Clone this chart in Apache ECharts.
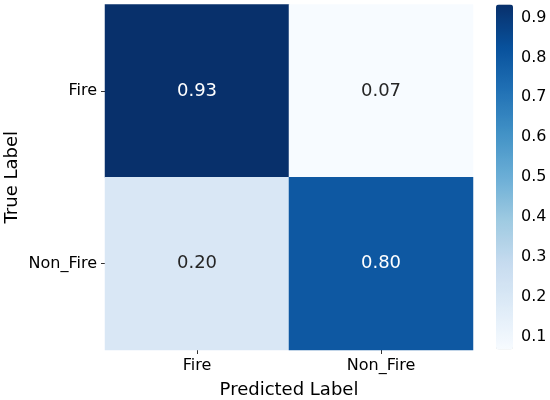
<!DOCTYPE html>
<html><head><meta charset="utf-8">
<script src="https://cdn.jsdelivr.net/npm/echarts@6/dist/echarts.min.js"></script>
<style>html,body{margin:0;padding:0;background:#fff}#c{width:550px;height:400px}</style>
</head><body><div id="c"></div>
<script>
const predicted = ['Fire', 'Non_Fire'];
const trueLabels = ['Fire', 'Non_Fire'];
// rows = true label, cols = predicted label
const matrixFire = [0.9327, 0.0673];
const matrixNonFire = [0.20, 0.80];
const colorbarTicks = [0.1, 0.2, 0.3, 0.4, 0.5, 0.6, 0.7, 0.8, 0.9];
const vMin = 0.0673, vMax = 0.9327;

const data = [];
[matrixFire, matrixNonFire].forEach((row, r) => row.forEach((v, c) => data.push([c, r, v])));

const font = 'DejaVu Sans';
const chart = echarts.init(document.getElementById('c'), null, {renderer: 'canvas'});
chart.setOption({
  animation: false,
  textStyle: {fontFamily: font},
  grid: [
    {left: 105, right: 77, top: 4.5, bottom: 50, outerBoundsMode: 'none', containLabel: false},
    {left: 496, width: 17, top: 4.5, height: 345, outerBoundsMode: 'none', containLabel: false}
  ],
  xAxis: [
    {type: 'category', data: predicted, gridIndex: 0, position: 'bottom',
     axisLine: {show: false}, splitLine: {show: false},
     axisTick: {show: true, alignWithLabel: true, length: 4, lineStyle: {color: '#333'}},
     axisLabel: {fontSize: 16, color: '#000', fontFamily: font, margin: 8},
     name: 'Predicted Label', nameLocation: 'middle', nameGap: 31, nameMoveOverlap: false,
     nameTextStyle: {fontSize: 18, color: '#000', fontFamily: font}},
    {type: 'value', gridIndex: 1, show: false, min: 0, max: 1}
  ],
  yAxis: [
    {type: 'category', data: trueLabels, gridIndex: 0, inverse: true,
     axisLine: {show: false}, splitLine: {show: false},
     axisTick: {show: true, alignWithLabel: true, length: 4, lineStyle: {color: '#333'}},
     axisLabel: {fontSize: 16, color: '#000', fontFamily: font, margin: 8},
     name: 'True Label', nameLocation: 'middle', nameGap: 84, nameMoveOverlap: false,
     nameTextStyle: {fontSize: 18, color: '#000', fontFamily: font}},
    {type: 'value', gridIndex: 1, position: 'right', min: vMin, max: vMax,
     axisLine: {show: false}, splitLine: {show: false},
     axisTick: {show: true, customValues: colorbarTicks, length: 4, lineStyle: {color: '#333'}},
     axisLabel: {customValues: colorbarTicks, fontSize: 16, color: '#000', fontFamily: font, margin: 8,
       formatter: v => v.toFixed(1)}}
  ],
  visualMap: {
    type: 'continuous', min: vMin, max: vMax, seriesIndex: 0,
    orient: 'vertical', left: 496, top: 4.5, itemWidth: 17, itemHeight: 345,
    padding: 0, calculable: false, showLabel: false, text: null,
    inRange: {color: ['#f7fbff', '#deebf7', '#c6dbef', '#9ecae1', '#6baed6', '#4292c6', '#2171b5', '#08519c', '#08306b']}
  },
  series: [
    {type: 'heatmap', xAxisIndex: 0, yAxisIndex: 0,
     data: data.map(d => ({value: d, label: {color: d[2] > 0.5 ? '#fff' : '#262626'}})),
     label: {show: true, fontSize: 18, fontFamily: font,
       formatter: p => p.value[2].toFixed(2)},
     itemStyle: {borderWidth: 0}},
    {type: 'scatter', xAxisIndex: 1, yAxisIndex: 1, data: [], silent: true}
  ]
});
</script></body></html>
